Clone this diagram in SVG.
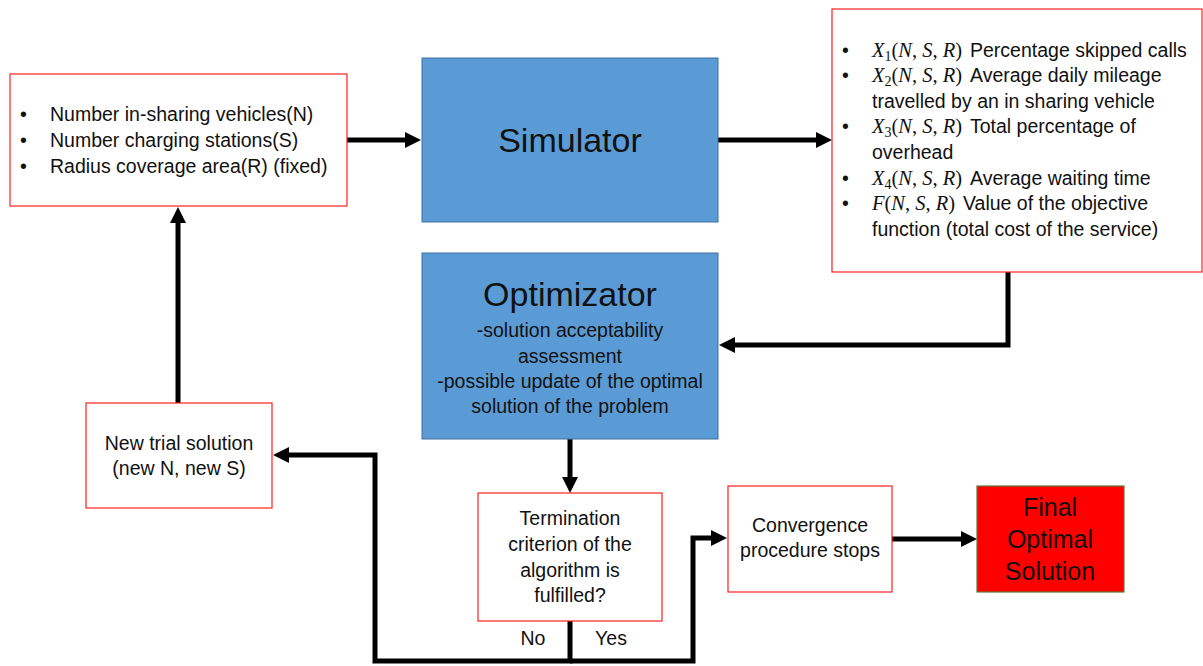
<svg xmlns="http://www.w3.org/2000/svg" width="1203" height="666" viewBox="0 0 1203 666">
<defs>
<style>
.t{font-family:"Liberation Sans",Arial,sans-serif;font-size:19.5px;fill:#111}
.c{text-anchor:middle}
.h{font-size:34px}
.f{font-size:25px}
.m{font-family:"Liberation Serif","Times New Roman",serif;font-style:italic;font-size:20.5px}
.mn{font-style:normal}
.sb{font-style:normal;font-size:14px}
.box{fill:#fff;stroke:#ff2020;stroke-width:1.2}
.blue{fill:#5B9BD5;stroke:#41719C;stroke-width:1}
.fin{fill:#ff0000;stroke:#5E7A35;stroke-width:1.2}
.con{fill:none;stroke:#000;stroke-width:5;stroke-linejoin:miter}
</style>
<marker id="ah" viewBox="0 0 16 16" markerWidth="16" markerHeight="16" refX="1" refY="8" orient="auto" markerUnits="userSpaceOnUse">
<path d="M0,0 L16,8 L0,16 z" fill="#000"/>
</marker>
</defs>
<rect width="1203" height="666" fill="#fff"/>

<g id="connectors">
<path class="con" d="M347,140 H406" marker-end="url(#ah)"/>
<path class="con" d="M718,140 H817" marker-end="url(#ah)"/>
<path class="con" d="M1008,272 V345 H734" marker-end="url(#ah)"/>
<path class="con" d="M570,439 V478" marker-end="url(#ah)"/>
<path class="con" d="M570,621 V661 H375 V455 H288" marker-end="url(#ah)"/>
<path class="con" d="M570,661 H693 V538 H712" marker-end="url(#ah)"/>
<path class="con" d="M178,403 V222" marker-end="url(#ah)"/>
<path class="con" d="M892,539 H962" marker-end="url(#ah)"/>
</g>

<g id="input">
<rect class="box" x="10" y="74" width="337" height="132"/>
<text class="t" x="20" y="121">•</text>
<text class="t" x="50" y="121">Number in-sharing vehicles(N)</text>
<text class="t" x="20" y="147">•</text>
<text class="t" x="50" y="147">Number charging stations(S)</text>
<text class="t" x="20" y="173">•</text>
<text class="t" x="50" y="173">Radius coverage area(R) (fixed)</text>
</g>

<g id="simulator">
<rect class="blue" x="422" y="58" width="296" height="164"/>
<text class="t c h" x="570" y="152">Simulator</text>
</g>

<g id="outputs">
<rect class="box" x="832" y="9" width="370" height="263"/>
<text class="t" x="842" y="57">•</text>
<text class="t" y="57"><tspan class="m" x="872">X</tspan><tspan class="m sb" dy="4">1</tspan><tspan class="m mn" dy="-4">(</tspan><tspan class="m">N</tspan><tspan class="m mn">, </tspan><tspan class="m">S</tspan><tspan class="m mn">, </tspan><tspan class="m">R</tspan><tspan class="m mn">)</tspan><tspan x="970">Percentage skipped calls</tspan></text>
<text class="t" x="842" y="82">•</text>
<text class="t" y="82"><tspan class="m" x="872">X</tspan><tspan class="m sb" dy="4">2</tspan><tspan class="m mn" dy="-4">(</tspan><tspan class="m">N</tspan><tspan class="m mn">, </tspan><tspan class="m">S</tspan><tspan class="m mn">, </tspan><tspan class="m">R</tspan><tspan class="m mn">)</tspan><tspan x="970">Average daily mileage</tspan></text>
<text class="t" x="872" y="108">travelled by an in sharing vehicle</text>
<text class="t" x="842" y="133">•</text>
<text class="t" y="133"><tspan class="m" x="872">X</tspan><tspan class="m sb" dy="4">3</tspan><tspan class="m mn" dy="-4">(</tspan><tspan class="m">N</tspan><tspan class="m mn">, </tspan><tspan class="m">S</tspan><tspan class="m mn">, </tspan><tspan class="m">R</tspan><tspan class="m mn">)</tspan><tspan x="970">Total percentage of</tspan></text>
<text class="t" x="872" y="159">overhead</text>
<text class="t" x="842" y="185">•</text>
<text class="t" y="185"><tspan class="m" x="872">X</tspan><tspan class="m sb" dy="4">4</tspan><tspan class="m mn" dy="-4">(</tspan><tspan class="m">N</tspan><tspan class="m mn">, </tspan><tspan class="m">S</tspan><tspan class="m mn">, </tspan><tspan class="m">R</tspan><tspan class="m mn">)</tspan><tspan x="970">Average waiting time</tspan></text>
<text class="t" x="842" y="210">•</text>
<text class="t" y="210"><tspan class="m" x="872">F</tspan><tspan class="m mn">(</tspan><tspan class="m">N</tspan><tspan class="m mn">, </tspan><tspan class="m">S</tspan><tspan class="m mn">, </tspan><tspan class="m">R</tspan><tspan class="m mn">)</tspan><tspan x="963">Value of the objective</tspan></text>
<text class="t" x="872" y="236">function (total cost of the service)</text>
</g>

<g id="optimizator">
<rect class="blue" x="422" y="253" width="296" height="186"/>
<text class="t c h" x="570" y="306">Optimizator</text>
<text class="t c" x="570" y="337">-solution acceptability</text>
<text class="t c" x="570" y="363">assessment</text>
<text class="t c" x="570" y="388">-possible update of the optimal</text>
<text class="t c" x="570" y="413">solution of the problem</text>
</g>

<g id="newtrial">
<rect class="box" x="86" y="403" width="186" height="105"/>
<text class="t c" x="179" y="450">New trial solution</text>
<text class="t c" x="179" y="475">(new N, new S)</text>
</g>

<g id="termination">
<rect class="box" x="478" y="493" width="184" height="128"/>
<text class="t c" x="570" y="525">Termination</text>
<text class="t c" x="570" y="551">criterion of the</text>
<text class="t c" x="570" y="577">algorithm is</text>
<text class="t c" x="570" y="602">fulfilled?</text>
</g>

<g id="labels">
<text class="t c" x="533" y="645">No</text>
<text class="t c" x="611" y="645">Yes</text>
</g>

<g id="convergence">
<rect class="box" x="728" y="486" width="164" height="106"/>
<text class="t c" x="810" y="532">Convergence</text>
<text class="t c" x="810" y="557">procedure stops</text>
</g>

<g id="final">
<rect class="fin" x="977" y="486" width="147" height="106"/>
<text class="t c f" x="1050" y="516">Final</text>
<text class="t c f" x="1050" y="548">Optimal</text>
<text class="t c f" x="1050" y="580">Solution</text>
</g>
</svg>
